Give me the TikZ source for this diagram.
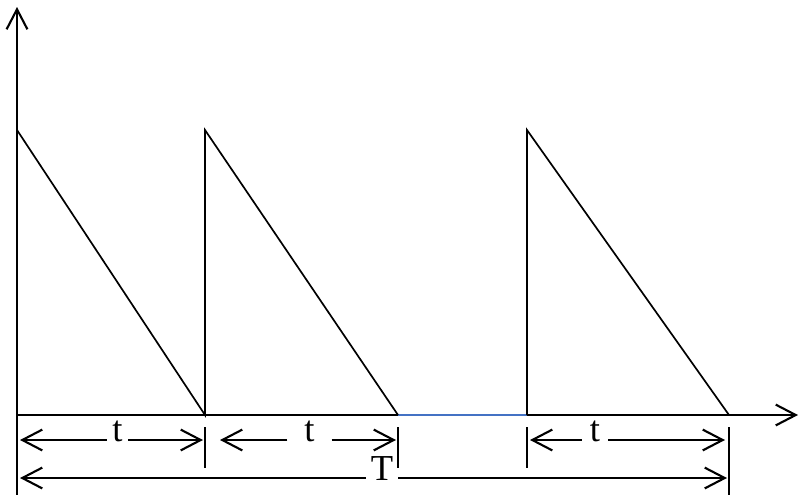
\documentclass[tikz,border=0pt]{standalone}
\usepackage{fontspec}
\setmainfont{Liberation Serif}
\usetikzlibrary{arrows.meta}

\tikzset{
  line/.style={line width=1.5pt},
  arr/.style={line, -{Straight Barb[length=0.5cm,width=0.52cm,line width=1.5pt]}},
  lbl/.style={font=\fontsize{26}{30}\selectfont, inner ysep=0pt,
    text height=0.66em, text depth=0.5em},
}

\begin{document}
\begin{tikzpicture}[x=0.025cm, y=-0.025cm]
  \useasboundingbox (0,0) rectangle (799,495);

  % axes
  \coordinate (O) at (17,415);
  \coordinate (ybot) at (17,460);
  \coordinate (ytop) at (17,7);
  \coordinate (xend) at (798,415);

  % sawtooth
  \coordinate (p1) at (17,130);
  \coordinate (a1) at (205,415);
  \coordinate (p2) at (205,130);
  \coordinate (a2) at (398,415);
  \coordinate (b3) at (527,415);
  \coordinate (p3) at (527,130);
  \coordinate (a3) at (729,415);

  \draw[arr] (ybot) -- (ytop);
  \draw[line] (O) -- (a2);
  \draw[line width=1.1pt, color={rgb,255:red,68;green,114;blue,196}] (a2) -- (b3);
  \draw[arr] (b3) -- (xend);

  \draw[line width=1.2pt] (p1) -- (a1) -- (p2) -- (a2);
  \draw[line width=1.2pt] (b3) -- (p3) -- (a3);

  % ticks
  \foreach \x in {205,398,527}
    \draw[line] (\x,427) -- (\x,468);
  \draw[line] (729,427) -- (729,495);
  \draw[line] (17,455) -- (17,495);

  % dimension ends
  \coordinate (l1) at (20,440);
  \coordinate (r1) at (203,440);
  \coordinate (l2) at (220,440);
  \coordinate (r2) at (396,440);
  \coordinate (l3) at (530,440);
  \coordinate (r3) at (725,440);
  \coordinate (lT) at (20,478);
  \coordinate (rT) at (727,478);

  % labels
  \node[lbl, inner xsep=0.14cm] (t1) at (117.5,440) {t};
  \node[lbl, inner xsep=0.42cm] (t2) at (309.5,440) {t};
  \node[lbl, inner xsep=0.2cm] (t3) at (595,440) {t};
  \node[lbl, inner xsep=0.125cm, text depth=0.25em] (T) at (382,478) {T};

  \draw[arr] (t1) -- (l1);
  \draw[arr] (t1) -- (r1);
  \draw[arr] (t2) -- (l2);
  \draw[arr] (t2) -- (r2);
  \draw[arr] (t3) -- (l3);
  \draw[arr] (t3) -- (r3);
  \draw[arr] (T) -- (lT);
  \draw[arr] (T) -- (rT);
\end{tikzpicture}
\end{document}
